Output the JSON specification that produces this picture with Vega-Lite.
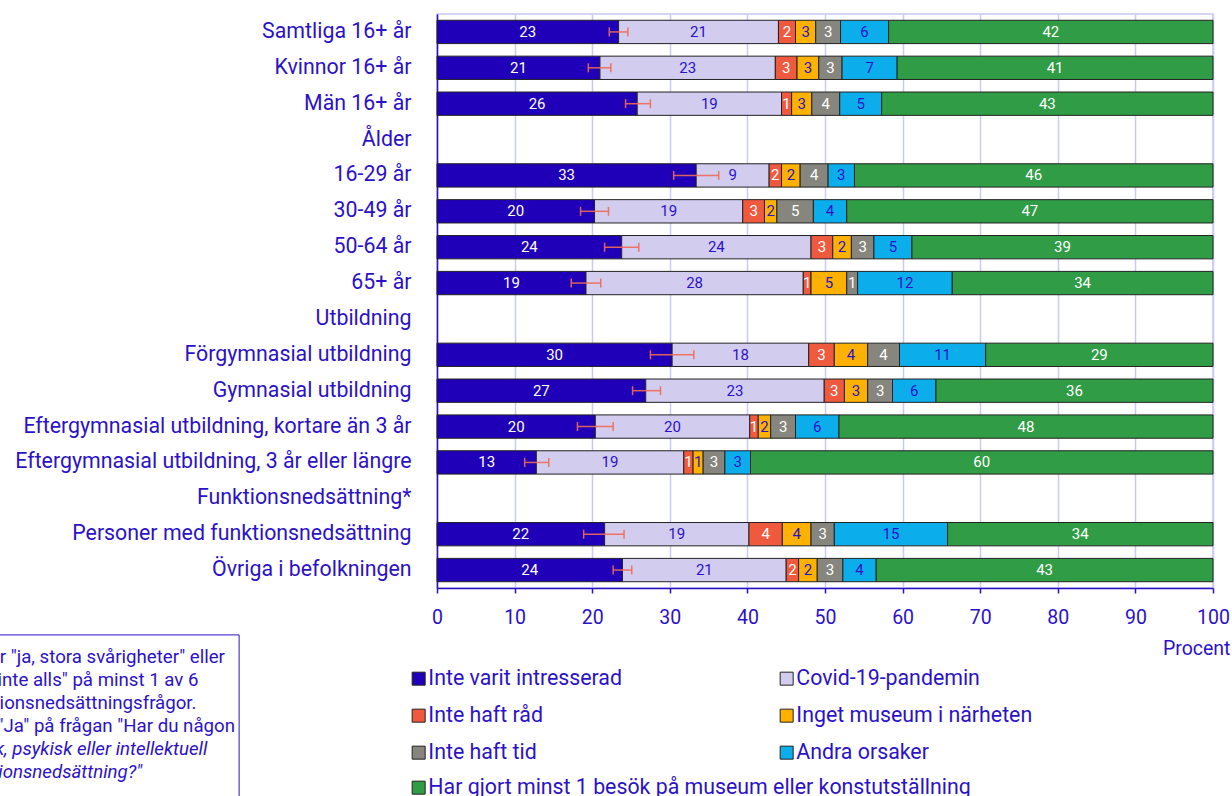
{
  "$schema": "https://vega.github.io/schema/vega-lite/v6.json",
  "width": 776,
  "height": 574,
  "autosize": {"type": "none"},
  "padding": {"left": 437, "top": 14, "right": 19, "bottom": 208},
  "background": "white",
  "config": {
    "font": "Roboto",
    "view": {"stroke": "#C8C8F2", "strokeWidth": 1.5},
    "legend": {"padding": 0}
  },
  "datasets": {
    "seg": [
      {"g": "Samtliga 16+ år", "c": "Inte varit intresserad", "k": 1, "v": 23.4},
      {"g": "Samtliga 16+ år", "c": "Covid-19-pandemin", "k": 2, "v": 20.6},
      {"g": "Samtliga 16+ år", "c": "Inte haft råd", "k": 3, "v": 2.2},
      {"g": "Samtliga 16+ år", "c": "Inget museum i närheten", "k": 4, "v": 2.6},
      {"g": "Samtliga 16+ år", "c": "Inte haft tid", "k": 5, "v": 3.2},
      {"g": "Samtliga 16+ år", "c": "Andra orsaker", "k": 6, "v": 6.2},
      {"g": "Samtliga 16+ år", "c": "Har gjort minst 1 besök på museum eller konstutställning", "k": 7, "v": 41.8},
      {"g": "Kvinnor 16+ år", "c": "Inte varit intresserad", "k": 1, "v": 21.0},
      {"g": "Kvinnor 16+ år", "c": "Covid-19-pandemin", "k": 2, "v": 22.6},
      {"g": "Kvinnor 16+ år", "c": "Inte haft råd", "k": 3, "v": 2.8},
      {"g": "Kvinnor 16+ år", "c": "Inget museum i närheten", "k": 4, "v": 2.8},
      {"g": "Kvinnor 16+ år", "c": "Inte haft tid", "k": 5, "v": 3.0},
      {"g": "Kvinnor 16+ år", "c": "Andra orsaker", "k": 6, "v": 7.1},
      {"g": "Kvinnor 16+ år", "c": "Har gjort minst 1 besök på museum eller konstutställning", "k": 7, "v": 40.7},
      {"g": "Män 16+ år", "c": "Inte varit intresserad", "k": 1, "v": 25.8},
      {"g": "Män 16+ år", "c": "Covid-19-pandemin", "k": 2, "v": 18.6},
      {"g": "Män 16+ år", "c": "Inte haft råd", "k": 3, "v": 1.3},
      {"g": "Män 16+ år", "c": "Inget museum i närheten", "k": 4, "v": 2.6},
      {"g": "Män 16+ år", "c": "Inte haft tid", "k": 5, "v": 3.6},
      {"g": "Män 16+ år", "c": "Andra orsaker", "k": 6, "v": 5.4},
      {"g": "Män 16+ år", "c": "Har gjort minst 1 besök på museum eller konstutställning", "k": 7, "v": 42.7},
      {"g": "16-29 år", "c": "Inte varit intresserad", "k": 1, "v": 33.4},
      {"g": "16-29 år", "c": "Covid-19-pandemin", "k": 2, "v": 9.4},
      {"g": "16-29 år", "c": "Inte haft råd", "k": 3, "v": 1.6},
      {"g": "16-29 år", "c": "Inget museum i närheten", "k": 4, "v": 2.4},
      {"g": "16-29 år", "c": "Inte haft tid", "k": 5, "v": 3.6},
      {"g": "16-29 år", "c": "Andra orsaker", "k": 6, "v": 3.4},
      {"g": "16-29 år", "c": "Har gjort minst 1 besök på museum eller konstutställning", "k": 7, "v": 46.2},
      {"g": "30-49 år", "c": "Inte varit intresserad", "k": 1, "v": 20.3},
      {"g": "30-49 år", "c": "Covid-19-pandemin", "k": 2, "v": 19.1},
      {"g": "30-49 år", "c": "Inte haft råd", "k": 3, "v": 2.8},
      {"g": "30-49 år", "c": "Inget museum i närheten", "k": 4, "v": 1.6},
      {"g": "30-49 år", "c": "Inte haft tid", "k": 5, "v": 4.7},
      {"g": "30-49 år", "c": "Andra orsaker", "k": 6, "v": 4.3},
      {"g": "30-49 år", "c": "Har gjort minst 1 besök på museum eller konstutställning", "k": 7, "v": 47.2},
      {"g": "50-64 år", "c": "Inte varit intresserad", "k": 1, "v": 23.8},
      {"g": "50-64 år", "c": "Covid-19-pandemin", "k": 2, "v": 24.4},
      {"g": "50-64 år", "c": "Inte haft råd", "k": 3, "v": 2.8},
      {"g": "50-64 år", "c": "Inget museum i närheten", "k": 4, "v": 2.4},
      {"g": "50-64 år", "c": "Inte haft tid", "k": 5, "v": 2.9},
      {"g": "50-64 år", "c": "Andra orsaker", "k": 6, "v": 4.9},
      {"g": "50-64 år", "c": "Har gjort minst 1 besök på museum eller konstutställning", "k": 7, "v": 38.8},
      {"g": "65+ år", "c": "Inte varit intresserad", "k": 1, "v": 19.2},
      {"g": "65+ år", "c": "Covid-19-pandemin", "k": 2, "v": 28.0},
      {"g": "65+ år", "c": "Inte haft råd", "k": 3, "v": 1.0},
      {"g": "65+ år", "c": "Inget museum i närheten", "k": 4, "v": 4.6},
      {"g": "65+ år", "c": "Inte haft tid", "k": 5, "v": 1.4},
      {"g": "65+ år", "c": "Andra orsaker", "k": 6, "v": 12.2},
      {"g": "65+ år", "c": "Har gjort minst 1 besök på museum eller konstutställning", "k": 7, "v": 33.6},
      {"g": "Förgymnasial utbildning", "c": "Inte varit intresserad", "k": 1, "v": 30.3},
      {"g": "Förgymnasial utbildning", "c": "Covid-19-pandemin", "k": 2, "v": 17.6},
      {"g": "Förgymnasial utbildning", "c": "Inte haft råd", "k": 3, "v": 3.3},
      {"g": "Förgymnasial utbildning", "c": "Inget museum i närheten", "k": 4, "v": 4.3},
      {"g": "Förgymnasial utbildning", "c": "Inte haft tid", "k": 5, "v": 4.1},
      {"g": "Förgymnasial utbildning", "c": "Andra orsaker", "k": 6, "v": 11.1},
      {"g": "Förgymnasial utbildning", "c": "Har gjort minst 1 besök på museum eller konstutställning", "k": 7, "v": 29.3},
      {"g": "Gymnasial utbildning", "c": "Inte varit intresserad", "k": 1, "v": 26.9},
      {"g": "Gymnasial utbildning", "c": "Covid-19-pandemin", "k": 2, "v": 23.0},
      {"g": "Gymnasial utbildning", "c": "Inte haft råd", "k": 3, "v": 2.6},
      {"g": "Gymnasial utbildning", "c": "Inget museum i närheten", "k": 4, "v": 3.0},
      {"g": "Gymnasial utbildning", "c": "Inte haft tid", "k": 5, "v": 3.2},
      {"g": "Gymnasial utbildning", "c": "Andra orsaker", "k": 6, "v": 5.6},
      {"g": "Gymnasial utbildning", "c": "Har gjort minst 1 besök på museum eller konstutställning", "k": 7, "v": 35.7},
      {"g": "Eftergymnasial utbildning, kortare än 3 år", "c": "Inte varit intresserad", "k": 1, "v": 20.4},
      {"g": "Eftergymnasial utbildning, kortare än 3 år", "c": "Covid-19-pandemin", "k": 2, "v": 19.9},
      {"g": "Eftergymnasial utbildning, kortare än 3 år", "c": "Inte haft råd", "k": 3, "v": 1.1},
      {"g": "Eftergymnasial utbildning, kortare än 3 år", "c": "Inget museum i närheten", "k": 4, "v": 1.6},
      {"g": "Eftergymnasial utbildning, kortare än 3 år", "c": "Inte haft tid", "k": 5, "v": 3.2},
      {"g": "Eftergymnasial utbildning, kortare än 3 år", "c": "Andra orsaker", "k": 6, "v": 5.6},
      {"g": "Eftergymnasial utbildning, kortare än 3 år", "c": "Har gjort minst 1 besök på museum eller konstutställning", "k": 7, "v": 48.2},
      {"g": "Eftergymnasial utbildning, 3 år eller längre", "c": "Inte varit intresserad", "k": 1, "v": 12.8},
      {"g": "Eftergymnasial utbildning, 3 år eller längre", "c": "Covid-19-pandemin", "k": 2, "v": 19.0},
      {"g": "Eftergymnasial utbildning, 3 år eller längre", "c": "Inte haft råd", "k": 3, "v": 1.2},
      {"g": "Eftergymnasial utbildning, 3 år eller längre", "c": "Inget museum i närheten", "k": 4, "v": 1.3},
      {"g": "Eftergymnasial utbildning, 3 år eller längre", "c": "Inte haft tid", "k": 5, "v": 2.8},
      {"g": "Eftergymnasial utbildning, 3 år eller längre", "c": "Andra orsaker", "k": 6, "v": 3.3},
      {"g": "Eftergymnasial utbildning, 3 år eller längre", "c": "Har gjort minst 1 besök på museum eller konstutställning", "k": 7, "v": 59.6},
      {"g": "Personer med funktionsnedsättning", "c": "Inte varit intresserad", "k": 1, "v": 21.6},
      {"g": "Personer med funktionsnedsättning", "c": "Covid-19-pandemin", "k": 2, "v": 18.6},
      {"g": "Personer med funktionsnedsättning", "c": "Inte haft råd", "k": 3, "v": 4.3},
      {"g": "Personer med funktionsnedsättning", "c": "Inget museum i närheten", "k": 4, "v": 3.7},
      {"g": "Personer med funktionsnedsättning", "c": "Inte haft tid", "k": 5, "v": 3.0},
      {"g": "Personer med funktionsnedsättning", "c": "Andra orsaker", "k": 6, "v": 14.6},
      {"g": "Personer med funktionsnedsättning", "c": "Har gjort minst 1 besök på museum eller konstutställning", "k": 7, "v": 34.2},
      {"g": "Övriga i befolkningen", "c": "Inte varit intresserad", "k": 1, "v": 23.9},
      {"g": "Övriga i befolkningen", "c": "Covid-19-pandemin", "k": 2, "v": 21.1},
      {"g": "Övriga i befolkningen", "c": "Inte haft råd", "k": 3, "v": 1.6},
      {"g": "Övriga i befolkningen", "c": "Inget museum i närheten", "k": 4, "v": 2.4},
      {"g": "Övriga i befolkningen", "c": "Inte haft tid", "k": 5, "v": 3.3},
      {"g": "Övriga i befolkningen", "c": "Andra orsaker", "k": 6, "v": 4.3},
      {"g": "Övriga i befolkningen", "c": "Har gjort minst 1 besök på museum eller konstutställning", "k": 7, "v": 43.4}
    ],
    "err": [
      {"g": "Samtliga 16+ år", "lo": 22.2, "hi": 24.6},
      {"g": "Kvinnor 16+ år", "lo": 19.5, "hi": 22.4},
      {"g": "Män 16+ år", "lo": 24.3, "hi": 27.5},
      {"g": "16-29 år", "lo": 30.5, "hi": 36.3},
      {"g": "30-49 år", "lo": 18.5, "hi": 22.1},
      {"g": "50-64 år", "lo": 21.6, "hi": 26.0},
      {"g": "65+ år", "lo": 17.3, "hi": 21.1},
      {"g": "Förgymnasial utbildning", "lo": 27.5, "hi": 33.1},
      {"g": "Gymnasial utbildning", "lo": 25.2, "hi": 28.8},
      {"g": "Eftergymnasial utbildning, kortare än 3 år", "lo": 18.1, "hi": 22.7},
      {"g": "Eftergymnasial utbildning, 3 år eller längre", "lo": 11.3, "hi": 14.4},
      {"g": "Personer med funktionsnedsättning", "lo": 18.9, "hi": 24.1},
      {"g": "Övriga i befolkningen", "lo": 22.7, "hi": 25.1}
    ],
    "note": [
      {"line": 1, "t": "* Svar \"ja, stora svårigheter\" eller", "it": false},
      {"line": 2, "t": "\"kan inte alls\" på minst 1 av 6", "it": false},
      {"line": 3, "t": "funktionsnedsättningsfrågor.", "it": false},
      {"line": 4, "t": "Eller \"Ja\" på frågan \"Har du någon", "it": false},
      {"line": 5, "t": "fysisk, psykisk eller intellektuell", "it": true},
      {"line": 6, "t": "funktionsnedsättning?\"", "it": true}
    ]
  },
  "layer": [
    {
      "layer": [
        {
          "data": {"name": "seg"},
          "transform": [
            {"stack": "v", "groupby": ["g"], "sort": [{"field": "k", "order": "ascending"}], "as": ["x0", "x1"]},
            {"filter": "datum.k < 7"}
          ],
          "mark": {"type": "bar", "stroke": "#222222", "strokeWidth": 1},
          "encoding": {
            "y": {
              "field": "g", "type": "nominal",
              "scale": {
                "domain": ["Samtliga 16+ år", "Kvinnor 16+ år", "Män 16+ år", "Ålder", "16-29 år", "30-49 år", "50-64 år", "65+ år", "Utbildning", "Förgymnasial utbildning", "Gymnasial utbildning", "Eftergymnasial utbildning, kortare än 3 år", "Eftergymnasial utbildning, 3 år eller längre", "Funktionsnedsättning*", "Personer med funktionsnedsättning", "Övriga i befolkningen"],
                "paddingInner": 0.35, "paddingOuter": 0.175
              },
              "axis": {
                "title": null, "ticks": false, "labelPadding": 26, "labelLimit": 600,
                "labelFont": "Roboto", "labelFontSize": 21.33, "labelColor": "#2B12C8",
                "domainColor": "#2A10C0", "domainWidth": 1.5, "grid": false
              }
            },
            "x": {
              "field": "x0", "type": "quantitative", "title": "Procent",
              "scale": {"domain": [0, 100], "nice": false},
              "axis": {
                "values": [0, 10, 20, 30, 40, 50, 60, 70, 80, 90, 100],
                "grid": true, "gridColor": "#CACAF4", "gridWidth": 1.5,
                "domainColor": "#2A10C0", "domainWidth": 1.5,
                "tickColor": "#2A10C0", "tickSize": 5, "tickWidth": 1.5,
                "labelPadding": 15, "labelFont": "Roboto", "labelFontSize": 19.5, "labelColor": "#2B12C8",
                "labelFlush": false,
                "title": "Procent", "titleFont": "Roboto", "titleFontSize": 19.5, "titleFontWeight": "normal",
                "titleColor": "#2B12C8", "titleX": 793, "titleY": 66, "titleAlign": "right",
                "titleBaseline": "alphabetic", "titleAnchor": "end"
              }
            },
            "x2": {"field": "x1"},
            "color": {
              "field": "c", "type": "nominal",
              "scale": {
                "domain": ["Inte varit intresserad", "Covid-19-pandemin", "Inte haft råd", "Inget museum i närheten", "Inte haft tid", "Andra orsaker"],
                "range": ["#1F00B8", "#D2CCEF", "#EF5A3F", "#FFB100", "#86867E", "#0BAEEA"]
              },
              "legend": {
                "title": null, "orient": "none", "legendX": -29, "legendY": 654,
                "direction": "horizontal",
                "columns": 2, "columnPadding": 154, "rowPadding": 15,
                "symbolType": "square", "symbolSize": 169, "symbolStrokeColor": "#222222", "symbolStrokeWidth": 1,
                "labelFont": "Roboto", "labelFontSize": 21.33, "labelColor": "#2B12C8", "labelOffset": -1,
                "labelLimit": 800
              }
            }
          }
        },
        {
          "data": {"name": "seg"},
          "transform": [
            {"stack": "v", "groupby": ["g"], "sort": [{"field": "k", "order": "ascending"}], "as": ["x0", "x1"]},
            {"filter": "datum.k == 7"}
          ],
          "mark": {"type": "bar", "stroke": "#222222", "strokeWidth": 1},
          "encoding": {
            "y": {"field": "g", "type": "nominal"},
            "x": {"field": "x0", "type": "quantitative", "title": "Procent"},
            "x2": {"field": "x1"},
            "fill": {
              "field": "c", "type": "nominal",
              "scale": {
                "domain": ["Har gjort minst 1 besök på museum eller konstutställning"],
                "range": ["#319C46"]
              },
              "legend": {
                "title": null, "orient": "none", "legendX": -29, "legendY": 763,
                "symbolType": "square", "symbolSize": 169, "symbolStrokeColor": "#222222", "symbolStrokeWidth": 1,
                "labelFont": "Roboto", "labelFontSize": 21.33, "labelColor": "#2B12C8", "labelOffset": -1,
                "labelLimit": 800
              }
            }
          }
        },
        {
          "data": {"name": "seg"},
          "mark": {"type": "text", "font": "Roboto", "fontSize": 15, "baseline": "middle", "align": "center"},
          "encoding": {
            "y": {"field": "g", "type": "nominal"},
            "x": {"field": "v", "type": "quantitative", "stack": "zero", "bandPosition": 0.5, "title": "Procent"},
            "order": {"field": "k", "type": "quantitative"},
            "text": {"field": "v", "type": "quantitative", "format": ".0f"},
            "color": {
              "condition": {"test": "indexof(['Covid-19-pandemin','Inget museum i närheten','Andra orsaker'], datum.c) >= 0", "value": "#2B12C8"},
              "value": "white"
            }
          }
        },
        {
          "data": {"name": "err"},
          "mark": {"type": "errorbar", "color": "#F06A55", "opacity": 0.9, "thickness": 1.5, "ticks": {"size": 9, "thickness": 1.5}},
          "encoding": {
            "y": {"field": "g", "type": "nominal"},
            "x": {"field": "lo", "type": "quantitative", "title": "Procent"},
            "x2": {"field": "hi"}
          }
        }
      ]
    },
    {
      "layer": [
        {
          "data": {"values": [{"box": 1}]},
          "mark": {"type": "rect", "fill": "white", "fillOpacity": 0, "stroke": "#2B12C8", "strokeWidth": 1},
          "encoding": {
            "x": {"datum": -70, "type": "quantitative", "title": "Procent"},
            "x2": {"datum": -25.5},
            "y": {"datum": 0.04, "type": "quantitative", "scale": {"domain": [-26.957, -2.0], "reverse": true, "zero": false, "nice": false}, "axis": null},
            "y2": {"datum": 8}
          }
        },
        {
          "data": {"name": "note"},
          "transform": [{"filter": "!datum.it"}],
          "mark": {"type": "text", "font": "Roboto", "fontSize": 18.67, "align": "left", "baseline": "middle", "color": "#2B12C8"},
          "encoding": {
            "x": {"datum": -61.86, "type": "quantitative", "title": "Procent"},
            "y": {"field": "line", "type": "quantitative", "scale": {"domain": [-26.957, -2.0], "reverse": true, "zero": false, "nice": false}, "axis": null},
            "text": {"field": "t"}
          }
        },
        {
          "data": {"name": "note"},
          "transform": [{"filter": "datum.it"}],
          "mark": {"type": "text", "font": "Roboto", "fontSize": 18.67, "fontStyle": "italic", "align": "left", "baseline": "middle", "color": "#2B12C8"},
          "encoding": {
            "x": {"datum": -61.86, "type": "quantitative", "title": "Procent"},
            "y": {"field": "line", "type": "quantitative", "scale": {"domain": [-26.957, -2.0], "reverse": true, "zero": false, "nice": false}, "axis": null},
            "text": {"field": "t"}
          }
        }
      ]
    }
  ],
  "resolve": {"scale": {"y": "independent"}}
}
